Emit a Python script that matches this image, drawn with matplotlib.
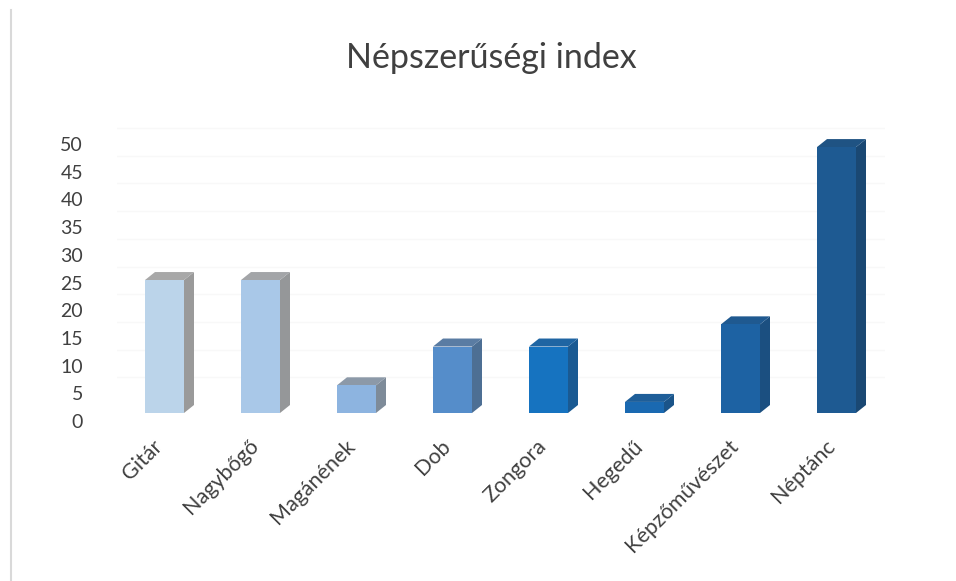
import matplotlib
matplotlib.use("Agg")
import matplotlib.pyplot as plt
import matplotlib.transforms as mtransforms
from matplotlib.patches import Polygon
from matplotlib.lines import Line2D

# ---- data ----
categories = ["Gitár", "Nagybőgő", "Magánének", "Dob", "Zongora",
              "Hegedű", "Képzőművészet", "Néptánc"]
values = [24, 24, 5, 12, 12, 2, 16, 48]
yticks = [0, 5, 10, 15, 20, 25, 30, 35, 40, 45, 50]
title = "Népszerűségi index"

front_colors = ["#BBD4EA", "#A9C8E8", "#8DB4E0", "#558DCA", "#1673C0",
                "#1A69B1", "#1D62A3", "#1E5A92"]
side_colors = ["#9A9A9A", "#959799", "#7E8B99", "#4D6F94", "#1A5A93",
               "#1A5489", "#1B4F80", "#1A4873"]
top_colors = ["#A8A8A8", "#A3A5A8", "#8C99A8", "#5A7CA3", "#1F65A3",
              "#1E5E99", "#1F5990", "#1F5383"]

FONT = ["Lato", "DejaVu Sans"]
plt.rcParams["font.family"] = FONT

fig = plt.figure(figsize=(9.56, 5.81), dpi=100)
fig.patch.set_facecolor("white")

W, H = 956, 581
px_unit = 5.54
left_px, right_px = 116.5, 884.5
floor_px = 413
ytop = 52
top_px = floor_px - ytop * px_unit
ax = fig.add_axes([left_px / W, (H - floor_px) / H,
                   (right_px - left_px) / W, (floor_px - top_px) / H])
ax.set_xlim(-0.5, len(categories) - 0.5)
ax.set_ylim(0, ytop)

for s in ax.spines.values():
    s.set_visible(False)

# faint back-wall gridlines
for t in yticks[1:]:
    ax.axhline(t + 8 / px_unit, color="#F8F8F8", lw=1, zorder=0)

bw = 39 / 96.0
ddx = 10 / 96.0
ddy = 8 / px_unit
xs = list(range(len(categories)))
ax.bar(xs, values, width=bw, color=front_colors, zorder=3)
for x, v, sc, tc in zip(xs, values, side_colors, top_colors):
    x0, x1 = x - bw / 2, x + bw / 2
    side = Polygon([(x1, 0), (x1 + ddx, ddy), (x1 + ddx, v + ddy), (x1, v)],
                   closed=True, facecolor=sc, edgecolor="none", zorder=2,
                   clip_on=False)
    top = Polygon([(x0, v), (x0 + ddx, v + ddy), (x1 + ddx, v + ddy), (x1, v)],
                  closed=True, facecolor=tc, edgecolor="none", zorder=2,
                  clip_on=False)
    ax.add_patch(side)
    ax.add_patch(top)

ax.set_yticks(yticks)
ax.set_yticklabels([str(t) for t in yticks])
ax.tick_params(axis="y", length=0, pad=24, labelsize=14, labelcolor="#404040")
ax.set_xticks(xs)
ax.set_xticklabels(categories)
ax.tick_params(axis="x", length=0, pad=20, labelsize=15.5, labelcolor="#404040")
for lab in ax.get_xticklabels():
    lab.set_rotation(45)
    lab.set_ha("right")
    lab.set_va("top")
    lab.set_rotation_mode("anchor")
    lab.set_transform(lab.get_transform() +
                      mtransforms.ScaledTranslation(-12 / 100, 5 / 100, fig.dpi_scale_trans))

# tick labels sit on the back wall (3D projection): shift down slightly
for lab in ax.get_yticklabels():
    lab.set_transform(lab.get_transform() +
                      mtransforms.ScaledTranslation(0, -8 / 100, fig.dpi_scale_trans))

fig.text(491 / W, 1 - 58 / H, title, ha="center", va="center",
         fontsize=24.5, color="#404040")

# chart area border at left
fig.add_artist(Line2D([10.5 / W, 10.5 / W], [0, 1 - 10 / H],
                      transform=fig.transFigure, color="#D9D9D9", lw=1.5))

fig.savefig("out.png", dpi=100, facecolor="white")
